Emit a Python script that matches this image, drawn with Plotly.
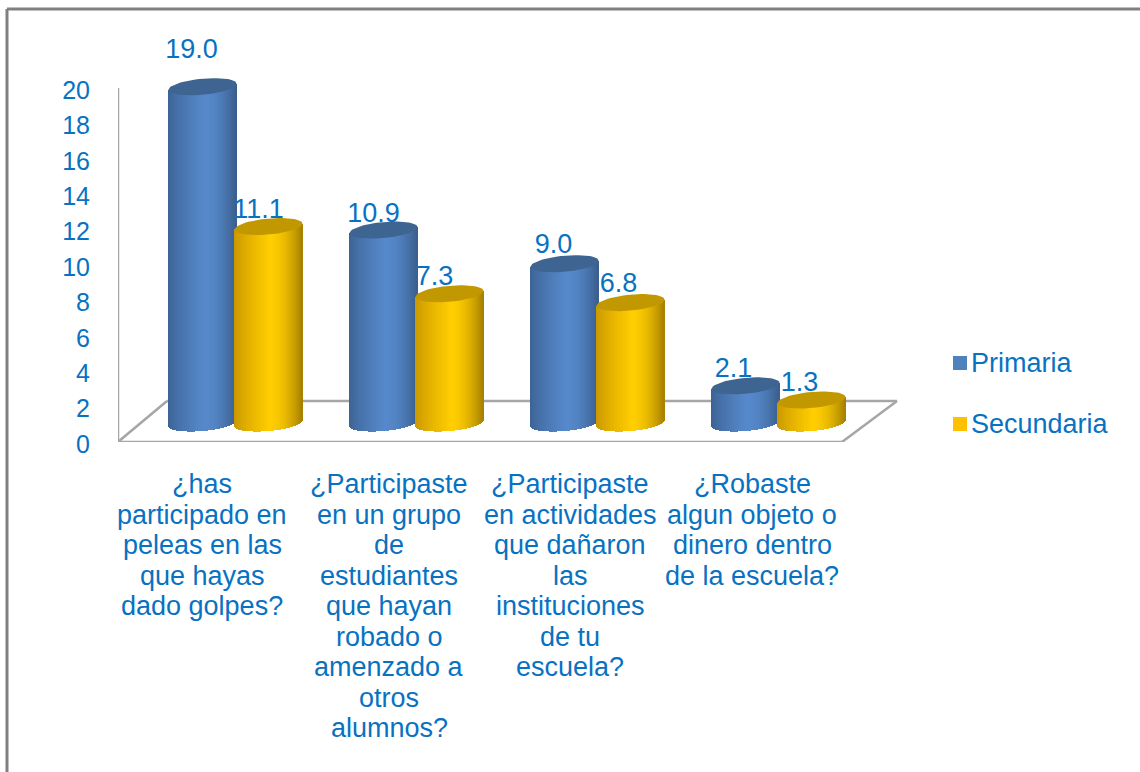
import math
import plotly.graph_objects as go

# ---- data ----
categories = [
    ["¿has", "participado en", "peleas en las", "que hayas", "dado golpes?"],
    ["¿Participaste", "en un grupo", "de", "estudiantes", "que hayan", "robado o", "amenzado a", "otros", "alumnos?"],
    ["¿Participaste", "en actividades", "que dañaron", "las", "instituciones", "de tu", "escuela?"],
    ["¿Robaste", "algun objeto o", "dinero dentro", "de la escuela?"],
]
primaria = [19.0, 10.9, 9.0, 2.1]
secundaria = [11.1, 7.3, 6.8, 1.3]
y_ticks = list(range(0, 21, 2))

# ---- geometry (page pixels) ----
W, H = 1140, 772
L, R, T, B = 118, 1120, 20, 442
Y20 = 88
CAT_PX = 181.0
CAT0_PX = 235.5
Y_PX = (B - Y20) / 20.0
xv = lambda p: (p - CAT0_PX) / CAT_PX
yv = lambda p: (B - p) / Y_PX
yp = lambda p: (B - p) / (B - T)
xp = lambda p: (p - L) / (R - L)
BASE = yv(423)
A, EB, TILT = 34.0, 8.0, 3.0
SERIES_DX = {"Primaria": -33.0, "Secundaria": 33.0}
STEP = 1.0
TEXT = "#0872C2"
GREY = "#A6A6A6"
FONT = "Liberation Sans, Arial, sans-serif"
FS = 27
PEAK = 0.05


def mix(c1, c2, f):
    return tuple(c1[i] + (c2[i] - c1[i]) * f for i in range(3))


def shade(t, edge_l, mid, edge_r):
    if t < PEAK:
        f = ((t + 1) / (1 + PEAK)) ** 0.8
        c = mix(edge_l, mid, f)
    else:
        f = ((t - PEAK) / (1 - PEAK)) ** 1.8
        c = mix(mid, edge_r, f)
    return "rgb(%d,%d,%d)" % tuple(round(v) for v in c)


fig = go.Figure()
xs = list(range(len(primaria)))


def add_bodies(values, name, edge_l, mid, edge_r):
    dx = SERIES_DX[name]
    n = int(2 * A / STEP)
    for j in range(n):
        o = -A + STEP * j
        t = (o + STEP / 2) / A
        drop = EB * math.sqrt(max(0, 1 - t * t)) - TILT * t
        fig.add_trace(go.Bar(
            x=xs,
            y=[v + (EB * math.sqrt(max(0, 1 - t * t))) / Y_PX for v in values],
            base=[BASE - drop / Y_PX] * len(values),
            width=(STEP + 0.8) / CAT_PX,
            offset=(dx + o) / CAT_PX,
            marker=dict(color=shade(t, edge_l, mid, edge_r), line=dict(width=0)),
            showlegend=False, hoverinfo="skip",
        ))


def add_caps(values, name, color):
    dx = SERIES_DX[name]
    for i, v in enumerate(values):
        ex, ey = [], []
        for k in range(61):
            a = 2 * math.pi * k / 60
            ex.append(i + (dx + A * math.cos(a)) / CAT_PX)
            ey.append(BASE + v + (EB * math.sin(a) + TILT * math.cos(a)) / Y_PX)
        fig.add_trace(go.Scatter(x=ex, y=ey, mode="lines", fill="toself", fillcolor=color,
                                 line=dict(width=0), showlegend=False, hoverinfo="skip",
                                 cliponaxis=False))


add_bodies(primaria, "Primaria", (60, 98, 148), (86, 137, 203), (58, 94, 140))
add_bodies(secundaria, "Secundaria", (200, 150, 0), (255, 205, 0), (165, 128, 0))

# value labels (behind the caps)
LABEL_SHIFT = {"Primaria": [(-11, 35), (-10, 15), (-11, 17), (-12, 16)],
               "Secundaria": [(-10, 15), (-15, 16), (-12, 17), (-12, 16)]}
for name, vals in (("Primaria", primaria), ("Secundaria", secundaria)):
    dx = SERIES_DX[name]
    sh = LABEL_SHIFT[name]
    fig.add_trace(go.Scatter(
        x=[i + (dx + sh[i][0]) / CAT_PX for i in xs],
        y=[BASE + vals[i] + sh[i][1] / Y_PX for i in xs],
        mode="text", text=["%.1f" % v for v in vals], textposition="middle center",
        textfont=dict(family=FONT, size=FS, color=TEXT),
        showlegend=False, hoverinfo="skip", cliponaxis=False))

add_caps(primaria, "Primaria", "#3E6491")
add_caps(secundaria, "Secundaria", "#C29800")

# legend
for name, py, col in (("Primaria", 363, "#4F81BD"), ("Secundaria", 424, "#FFC000")):
    fig.add_trace(go.Scatter(
        x=[xv(960)], y=[yv(py)], mode="markers",
        marker=dict(symbol="square", size=14, color=col),
        showlegend=False, hoverinfo="skip", cliponaxis=False))
    fig.add_trace(go.Scatter(
        x=[xv(971)], y=[yv(py + 2)], mode="text", text=[name], textposition="middle right",
        textfont=dict(family=FONT, size=FS, color=TEXT),
        showlegend=False, hoverinfo="skip", cliponaxis=False))

# category labels
LABEL_CENTERS = [202, 389, 570, 752]
ann = []
for c, lines in zip(LABEL_CENTERS, categories):
    for i, s in enumerate(lines):
        ann.append(dict(x=xp(c), y=yp(484 + 30.5 * i), xref="paper", yref="paper", text=s,
                        showarrow=False, xanchor="center", yanchor="middle",
                        font=dict(family=FONT, size=FS, color=TEXT)))

# floor and wall edge, behind the bars
floor = dict(color=GREY, width=2.5)
fx = [L, 167, 897, 842, L]
fy = [B, 401, 401, B, B]
shapes = [dict(type="line", xref="x", yref="y", layer="below",
               x0=xv(fx[i]), x1=xv(fx[i + 1]), y0=yv(fy[i]), y1=yv(fy[i + 1]), line=floor)
          for i in range(4)]
shapes.append(dict(type="line", xref="x", yref="y", layer="below",
                   x0=xv(L), x1=xv(L), y0=0, y1=20, line=floor))
frame = dict(color="#808080", width=3)
shapes += [
    dict(type="line", xref="paper", yref="paper", x0=xp(7), x1=xp(W), y0=yp(9), y1=yp(9), line=frame),
    dict(type="line", xref="paper", yref="paper", x0=xp(7), x1=xp(7), y0=yp(9), y1=yp(H), line=frame),
]

fig.update_layout(
    width=W, height=H, margin=dict(l=L, r=W - R, t=T, b=H - B, pad=0),
    paper_bgcolor="white", plot_bgcolor="white", barmode="overlay", bargap=0,
    showlegend=False, annotations=ann, shapes=shapes,
    xaxis=dict(range=[xv(L), xv(R)], visible=False, fixedrange=True),
    yaxis=dict(range=[0, yv(T)], tickvals=y_ticks, showgrid=False, zeroline=False, showline=False,
               ticks="", ticklabelstandoff=27, ticklabelshift=2,
               tickfont=dict(family=FONT, size=25, color=TEXT), fixedrange=True),
)
fig.write_html("out.html", config={"displayModeBar": False},
               post_script="document.body.style.margin='0';")
